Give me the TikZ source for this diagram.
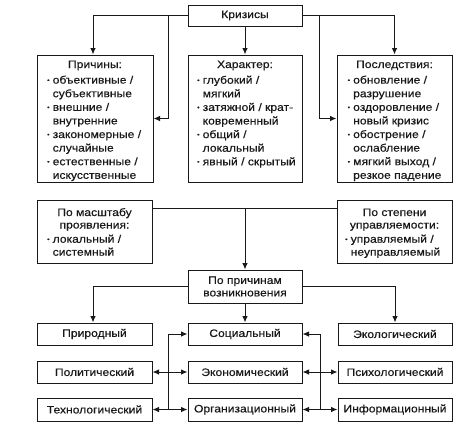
\documentclass[tikz,border=0pt]{standalone}
\usepackage{fontspec}
\setmainfont[FakeStretch=1.12,FakeBold=0.4]{Liberation Sans}
\usetikzlibrary{arrows.meta}
\newcommand{\bu}{\makebox[5.5pt][l]{\raisebox{0.25ex}{\fontsize{6}{6}\selectfont\textbullet}}}
\newcommand{\ci}{\hspace*{5.5pt}}
\begin{document}
\begin{tikzpicture}[x=1pt,y=-1pt,
  every node/.style={font=\fontsize{10.8}{13.6}\selectfont, text=black!90},
  box/.style={draw=black!90, line width=1pt, inner sep=0pt},
  txt/.style={inner sep=0pt, align=left, anchor=north west},
  ttl/.style={inner sep=0pt, anchor=base},
  lin/.style={draw=black!90, line width=1pt},
  arr/.style={lin, -{Latex[length=6.5pt,width=5.5pt]}},
  dbl/.style={lin, {Latex[length=6.5pt,width=5.5pt]}-{Latex[length=6.5pt,width=5.5pt]}}
]
\useasboundingbox[fill=white] (0,0) rectangle (462,434);

% top
\node[box, minimum width=114pt, minimum height=21pt] (kr) at (245,15.5) {Кризисы};
\node[box, minimum width=116pt, minimum height=127pt] (prich) at (95,118.5) {};
\node[box, minimum width=114pt, minimum height=127pt] (har) at (245,118.5) {};
\node[box, minimum width=115pt, minimum height=127pt] (posl) at (394.5,118.5) {};

\node[ttl] (prich-h) at (95,68) {Причины:};
\node[txt] (prich-l) at (47,75.5) {\bu объективные /\\ \ci субъективные\\ \bu внешние /\\ \ci внутренние\\ \bu закономерные /\\ \ci случайные\\ \bu естественные /\\ \ci искусственные};

\node[ttl] (har-h) at (245,68) {Характер:};
\node[txt] (har-l) at (197,75.5) {\bu глубокий /\\ \ci мягкий\\ \bu затяжной / крат-\\ \ci ковременный\\ \bu общий /\\ \ci локальный\\ \bu явный / скрытый};

\node[ttl] (posl-h) at (394.5,68) {Последствия:};
\node[txt] (posl-l) at (347.5,75.5) {\bu обновление /\\ \ci разрушение\\ \bu оздоровление /\\ \ci новый кризис\\ \bu обострение /\\ \ci ослабление\\ \bu мягкий выход /\\ \ci резкое падение};

% middle
\node[box, minimum width=115pt, minimum height=63pt] (mas) at (94.5,231.5) {};
\node[box, minimum width=115pt, minimum height=63pt] (stp) at (394.5,231.5) {};
\node[ttl] (mas-h) at (94.5,216) {По масштабу};
\node[ttl] (mas-h2) at (94.5,228.5) {проявления:};
\node[txt, font=\fontsize{10.8}{13}\selectfont] (mas-l) at (47,234.5) {\bu локальный /\\ \ci системный};
\node[ttl] (stp-h) at (394.5,216) {По степени};
\node[ttl] (stp-h2) at (394.5,228.5) {управляемости:};
\node[txt, font=\fontsize{10.8}{13}\selectfont] (stp-l) at (345,234.5) {\bu управляемый /\\ \ci неуправляемый};

\node[box, minimum width=114pt, minimum height=33pt, align=center, font=\fontsize{10.8}{12.5}\selectfont] (pp) at (245,286.5) {По причинам\\возникновения};

% bottom rows
\node[box, minimum width=115pt, minimum height=22pt] (prir) at (94.5,334) {Природный};
\node[box, minimum width=114pt, minimum height=22pt] (soc) at (245,334) {Социальный};
\node[box, minimum width=114pt, minimum height=22pt] (ekol) at (395,334) {Экологический};
\node[box, minimum width=115pt, minimum height=22pt] (polit) at (94.5,372) {Политический};
\node[box, minimum width=114pt, minimum height=22pt] (econ) at (245,372) {Экономический};
\node[box, minimum width=114pt, minimum height=22pt] (psy) at (395,372) {Психологический};
\node[box, minimum width=115pt, minimum height=23pt] (tech) at (94.5,409.5) {Технологический};
\node[box, minimum width=114pt, minimum height=23pt] (org) at (245,409.5) {Организационный};
\node[box, minimum width=114pt, minimum height=23pt] (inf) at (395,409.5) {Информационный};

% connectors top
\coordinate (jl) at (168,15.5);
\coordinate (jr) at (319,15.5);
\draw[arr] (kr.west) -| ([xshift=-2pt]prich.north);
\draw[arr] (jl) |- (prich.east);
\draw[arr] (kr.east) -| (posl.north);
\draw[arr] (jr) |- (posl.west);
\draw[arr] (kr.south) -- (har.north);

% connectors middle
\coordinate (mid) at (245,208);
\draw[lin] (mas.east |- mid) -- (stp.west |- mid);
\draw[arr] (mid) -- (pp.north);
\draw[arr] (pp.west) -| ([xshift=-1.5pt]prir.north);
\draw[arr] (pp.east) -| (ekol.north);
\draw[arr] (pp.south) -- (soc.north);

% connectors bottom
\coordinate (vl) at (168,334);
\coordinate (vr) at (320,334);
\draw[arr] (vl) -- (soc.west);
\draw[lin] (vl) -- (vl |- org.west);
\draw[dbl] (polit.east) -- (econ.west);
\draw[dbl] (tech.east) -- (org.west);
\draw[arr] (vr) -- (soc.east);
\draw[lin] (vr) -- (vr |- org.east);
\draw[dbl] (econ.east) -- (psy.west);
\draw[dbl] (org.east) -- (inf.west);
\end{tikzpicture}
\end{document}
